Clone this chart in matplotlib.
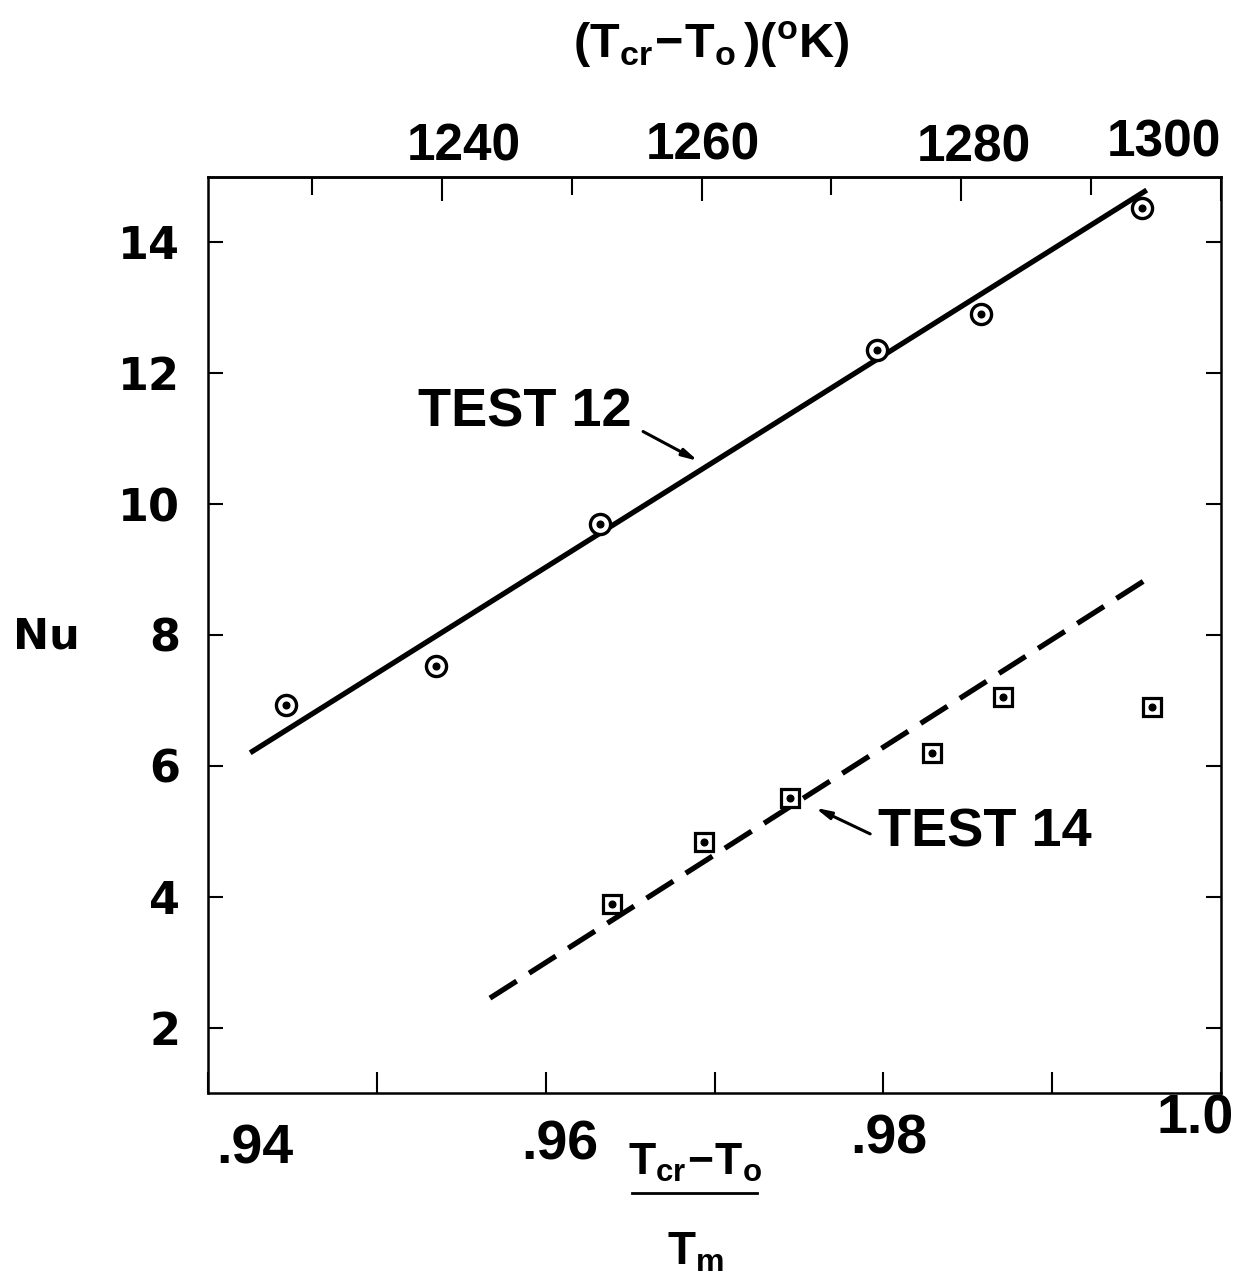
import matplotlib
matplotlib.use("Agg")
import matplotlib.pyplot as plt
from matplotlib.lines import Line2D

# ---- data -------------------------------------------------------------
# Test 12 (circles) and Test 14 (squares): Nusselt number vs (Tcr - To)/Tm
x_test12 = [0.9446, 0.9535, 0.9632, 0.9796, 0.9858, 0.9953]
nu_test12 = [6.93, 7.53, 9.70, 12.36, 12.91, 14.52]
x_test14 = [0.9639, 0.9694, 0.9745, 0.9829, 0.9871, 0.9959]
nu_test14 = [3.89, 4.84, 5.51, 6.20, 7.06, 6.90]

# straight-line fits drawn through each test
fit12_x = [0.9425, 0.9956]
fit12_nu = [6.20, 14.80]
fit14_x = [0.9567, 0.9957]
fit14_nu = [2.45, 8.87]

T_m = 1300.0  # K, converts the bottom scale to (Tcr - To) in K

x_ticks = [0.94, 0.95, 0.96, 0.97, 0.98, 0.99, 1.00]
x_label_vals = [0.94, 0.96, 0.98, 1.00]
x_label_txt = [".94", ".96", ".98", "1.0"]
y_ticks = [2, 4, 6, 8, 10, 12, 14]
top_major = [1240, 1260, 1280, 1300]
top_minor = [1230, 1250, 1270, 1290]
top_label_txt = ["1240", "1260", "1280", "1300"]

# ---- figure -----------------------------------------------------------
W, H = 1233, 1288
fig = plt.figure(figsize=(W / 100, H / 100), dpi=100)
ax = fig.add_axes([208 / W, 1 - 1093 / H, (1221 - 208) / W, (1093 - 177) / H])

ax.set_xlim(0.94, 1.00)
ax.set_ylim(1, 15)

for s in ax.spines.values():
    s.set_linewidth(1.8)

lab_font = dict(family="Liberation Sans", weight="bold")

# fitted lines
ax.plot(fit12_x, fit12_nu, color="black", lw=3.8, solid_capstyle="butt")
ax.plot(fit14_x, fit14_nu, color="black", lw=3.8,
        linestyle=(0, (6.0, 2.8)), dash_capstyle="butt")

# data markers: open symbol with a dot in the centre
ax.plot(x_test12, nu_test12, linestyle="none", marker="o", ms=14.5,
        mfc="white", mec="black", mew=2.4, zorder=3)
ax.plot(x_test12, nu_test12, linestyle="none", marker="o", ms=4.8,
        mfc="black", mec="black", zorder=4)
ax.plot(x_test14, nu_test14, linestyle="none", marker="s", ms=13.0,
        mfc="white", mec="black", mew=2.3, zorder=3)
ax.plot(x_test14, nu_test14, linestyle="none", marker="o", ms=4.8,
        mfc="black", mec="black", zorder=4)

# labels with arrows
arrow = dict(arrowstyle="-|>,head_length=0.9,head_width=0.22", color="black",
             lw=2.2, shrinkA=0, shrinkB=0)
ax.annotate("", xy=(0.96903, 10.66), xytext=(0.96577, 11.11), arrowprops=arrow)
ax.text(0.95878, 11.40, "TEST 12", ha="center", va="center",
        fontsize=39, **lab_font)
ax.annotate("", xy=(0.97596, 5.36), xytext=(0.97922, 4.96), arrowprops=arrow)
ax.text(0.98600, 4.98, "TEST 14", ha="center", va="center",
        fontsize=39, **lab_font)

# ---- bottom axis ------------------------------------------------------
ax.set_xticks(x_ticks)
ax.set_xticklabels([])
ax.tick_params(axis="x", which="major", direction="in", length=15, width=1.5,
               top=False, bottom=True)
bottom_offsets = [(47, -56), (14, -52), (5, -46), (-26, -26)]
for v, t, (dx, dy) in zip(x_label_vals, x_label_txt, bottom_offsets):
    ax.annotate(t, xy=(v, 0), xycoords=("data", "axes fraction"),
                xytext=(dx, dy), textcoords="offset pixels",
                ha="center", va="center", fontsize=40, **lab_font)

# ---- left / right axis ------------------------------------------------
ax.set_yticks(y_ticks)
ax.set_yticklabels([str(v) for v in y_ticks],
                   fontdict=dict(family="DejaVu Sans", weight="bold", size=32))
ax.tick_params(axis="y", direction="in", length=11, width=1.5, pad=20,
               left=True, right=True, labelright=False)
ax.set_ylabel("Nu", rotation=0, fontsize=31, family="DejaVu Sans",
              weight="bold", ha="center", va="center")
ax.yaxis.set_label_coords(-0.160, 0.498)

# ---- top axis in kelvin -----------------------------------------------
sec = ax.secondary_xaxis("top", functions=(lambda x: x * T_m, lambda t: t / T_m))
sec.set_xticks(top_major)
sec.set_xticks(top_minor, minor=True)
sec.set_xticklabels([])
sec.tick_params(which="major", direction="in", length=17, width=1.5)
sec.tick_params(which="minor", direction="in", length=13, width=1.5)
sec.spines["top"].set_linewidth(1.8)
top_offsets = [(22, 30), (1, 31), (13, 29), (-57, 34)]
for t, s, (dx, dy) in zip(top_major, top_label_txt, top_offsets):
    ax.annotate(s, xy=(t / T_m, 1), xycoords=("data", "axes fraction"),
                xytext=(dx, dy), textcoords="offset pixels",
                ha="center", va="center", fontsize=37, **lab_font)

# ---- axis titles --------------------------------------------------------
plt.rcParams["mathtext.fontset"] = "custom"
plt.rcParams["mathtext.rm"] = "Liberation Sans:bold"
plt.rcParams["mathtext.bf"] = "Liberation Sans:bold"
plt.rcParams["mathtext.it"] = "Liberation Sans:bold"
plt.rcParams["mathtext.default"] = "bf"

fig.text(711 / W, 1 - 45 / H,
         r"$(\mathbf{T}_{\mathbf{cr}}\!-\!\mathbf{T}_{\mathbf{o}}\,)(^{\mathbf{o}}\mathbf{K})$",
         ha="center", va="center", fontsize=35, **lab_font)

# fraction label under the bottom axis
fig.text(695 / W, 1 - 1163 / H,
         r"$\mathbf{T}_{\mathbf{cr}}\!-\!\mathbf{T}_{\mathbf{o}}$",
         ha="center", va="center", fontsize=32, **lab_font)
fig.add_artist(Line2D([632 / W, 757 / W], [1 - 1193 / H, 1 - 1193 / H],
                      transform=fig.transFigure, color="black", lw=2.0))
fig.text(695 / W, 1 - 1253 / H, r"$\mathbf{T}_{\mathbf{m}}$",
         ha="center", va="center", fontsize=33, **lab_font)

fig.savefig("out.png", dpi=100)
